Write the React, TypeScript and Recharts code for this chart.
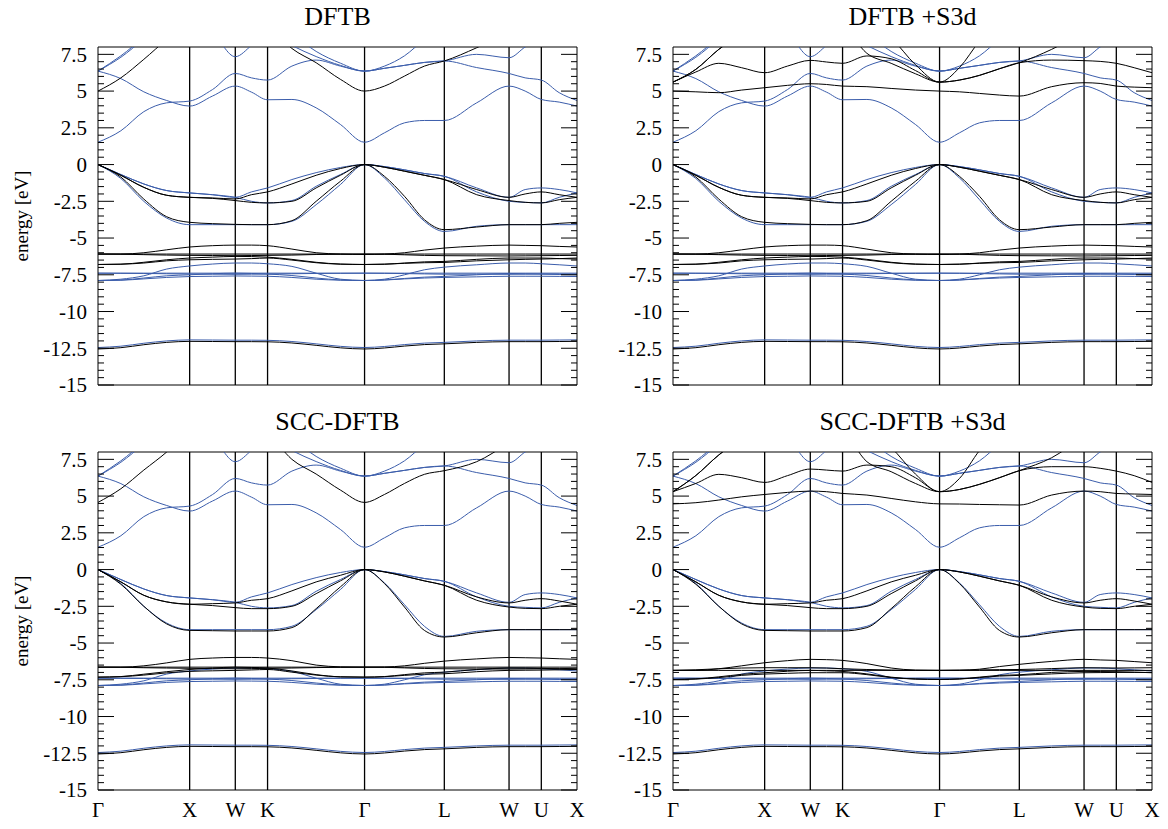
import { LineChart, Line, XAxis, YAxis, ReferenceLine } from "recharts";

// sample points along the path Γ-X-W-K-Γ-L-W-U-X
const K_GRID = [0, 0.248, 0.497, 0.745, 0.994, 1.241, 1.489, 1.664, 1.839, 2.103, 2.366, 2.629, 2.891, 3.107, 3.324, 3.54, 3.756, 4.107, 4.458, 4.633, 4.808, 5.002, 5.195];
const HS_POS = [0, 0.994, 1.489, 1.839, 2.891, 3.756, 4.458, 4.808, 5.195];
const HS_LABELS = ["Γ", "X", "W", "K", "Γ", "L", "W", "U", "X"];
const Y_MAJOR = [-15, -12.5, -10, -7.5, -5, -2.5, 0, 2.5, 5, 7.5];
const Y_MINOR = Array.from({ length: 46 }, (_, i) => -15 + i * 0.5);

// reference bands (blue), identical in every panel
const REF_S = [-12.45, -12.36, -12.16, -12.0, -11.93, -11.94, -11.95, -11.95, -11.96, -12.04, -12.2, -12.37, -12.45, -12.38, -12.25, -12.15, -12.1, -12.0, -11.95, -11.95, -11.95, -11.94, -11.93];
const REF_V1 = [0, -0.68, -1.32, -1.77, -1.93, -2.05, -2.23, -1.86, -1.59, -1.02, -0.55, -0.2, 0, -0.14, -0.36, -0.61, -0.8, -1.59, -2.23, -1.7, -1.59, -1.7, -1.93];
const REF_V2 = [0, -0.68, -1.32, -1.77, -1.93, -2.05, -2.23, -2.5, -2.61, -2.45, -1.48, -0.68, 0, -0.14, -0.36, -0.61, -0.8, -1.86, -2.5, -2.57, -2.61, -2.23, -1.93];
const REF_V3 = [0, -0.95, -2.5, -3.64, -4.09, -4.09, -4.09, -4.09, -4.09, -3.86, -2.73, -1.36, 0, -0.91, -2.39, -3.86, -4.55, -4.2, -4.09, -4.09, -4.09, -4.09, -4.09];
const REF_D1 = [-7.89, -7.8, -7.57, -7.11, -6.9, -6.77, -6.7, -6.7, -6.75, -6.93, -7.39, -7.8, -7.89, -7.8, -7.5, -7.16, -6.98, -6.82, -6.7, -6.7, -6.75, -6.82, -6.9];
const REF_D2 = [-7.39, -7.39, -7.39, -7.39, -7.39, -7.39, -7.39, -7.39, -7.39, -7.39, -7.39, -7.39, -7.39, -7.39, -7.39, -7.39, -7.39, -7.39, -7.39, -7.39, -7.39, -7.39, -7.39];
const REF_D3 = [-7.89, -7.86, -7.72, -7.57, -7.5, -7.43, -7.39, -7.41, -7.45, -7.55, -7.72, -7.85, -7.89, -7.85, -7.75, -7.66, -7.61, -7.5, -7.41, -7.43, -7.45, -7.48, -7.5];
const REF_D4 = [-7.89, -7.87, -7.78, -7.68, -7.62, -7.6, -7.58, -7.59, -7.6, -7.68, -7.8, -7.87, -7.89, -7.86, -7.78, -7.72, -7.68, -7.64, -7.6, -7.6, -7.6, -7.61, -7.62];
const REF_D5 = [-7.39, -7.4, -7.41, -7.43, -7.45, -7.46, -7.47, -7.46, -7.45, -7.43, -7.41, -7.4, -7.39, -7.4, -7.42, -7.44, -7.46, -7.46, -7.47, -7.46, -7.45, -7.45, -7.45];
const REF_C1 = [1.52, 2.3, 3.6, 4.2, 4.32, 5.1, 6.2, 5.9, 5.75, 6.7, 7.11, 6.7, 6.36, 6.55, 6.75, 6.95, 7.05, 6.6, 6.2, 5.9, 5.75, 4.89, 4.36];
const REF_C2 = [6.36, 5.85, 4.95, 4.36, 3.98, 4.66, 5.34, 4.93, 4.41, 4.43, 3.86, 2.73, 1.52, 2.16, 2.84, 3.0, 3.0, 4.2, 5.34, 5.0, 4.43, 4.25, 3.98];
const REF_C3 = [6.36, 7.4, 8.6, 9.4, 9.8, 9.0, 7.34, 8.1, 9.0, 8.1, 7.35, 6.75, 6.36, 6.55, 6.75, 6.95, 7.05, 7.5, 7.27, 8.0, 8.6, 8.9, 9.0];
const REF_C4 = [6.36, 7.3, 8.5, 9.4, 9.9, 10.3, 10.6, 10.3, 10, 8.9, 7.7, 6.9, 6.36, 6.7, 7.4, 8.5, 9.3, 9.8, 10, 10, 10, 9.9, 9.9];

// DFTB valence, d and s bands (used with and without S3d)
const DFTB_S = [-12.55, -12.46, -12.26, -12.1, -12.03, -12.04, -12.05, -12.05, -12.06, -12.14, -12.3, -12.47, -12.55, -12.48, -12.35, -12.25, -12.2, -12.1, -12.05, -12.05, -12.05, -12.04, -12.03];
const DFTB_V1 = [0, -0.73, -1.55, -2.09, -2.23, -2.27, -2.34, -2.05, -1.86, -1.32, -0.73, -0.27, 0, -0.18, -0.45, -0.73, -1.02, -1.7, -2.23, -2.0, -1.86, -2.05, -2.23];
const DFTB_V2 = [0, -0.73, -1.55, -2.09, -2.23, -2.3, -2.45, -2.57, -2.61, -2.5, -1.59, -0.73, 0, -0.18, -0.45, -0.73, -1.02, -2.05, -2.45, -2.57, -2.61, -2.39, -2.23];
const DFTB_V3 = [0, -0.85, -2.35, -3.55, -3.93, -4.02, -4.07, -4.09, -4.09, -3.82, -2.5, -1.14, 0, -0.8, -2.16, -3.75, -4.43, -4.25, -4.09, -4.09, -4.09, -4.0, -3.93];
const DFTB_D1 = [-6.09, -6.09, -6.0, -5.8, -5.61, -5.52, -5.48, -5.48, -5.52, -5.75, -6.0, -6.09, -6.12, -6.09, -6.0, -5.82, -5.68, -5.55, -5.48, -5.5, -5.52, -5.57, -5.61];
const DFTB_D2 = [-6.09, -6.09, -6.09, -6.09, -6.09, -6.09, -6.09, -6.09, -6.09, -6.09, -6.09, -6.09, -6.09, -6.09, -6.09, -6.09, -6.09, -6.09, -6.09, -6.09, -6.09, -6.09, -6.09];
const DFTB_D3 = [-6.8, -6.78, -6.65, -6.48, -6.36, -6.3, -6.25, -6.26, -6.3, -6.45, -6.65, -6.77, -6.8, -6.78, -6.7, -6.62, -6.59, -6.45, -6.36, -6.36, -6.36, -6.4, -6.43];
const DFTB_D4 = [-6.8, -6.78, -6.7, -6.55, -6.48, -6.45, -6.43, -6.4, -6.36, -6.5, -6.68, -6.78, -6.8, -6.78, -6.72, -6.68, -6.66, -6.55, -6.48, -6.45, -6.43, -6.4, -6.36];
const DFTB_D5 = [-6.09, -6.1, -6.13, -6.16, -6.18, -6.19, -6.2, -6.19, -6.18, -6.16, -6.12, -6.1, -6.09, -6.1, -6.14, -6.18, -6.2, -6.21, -6.22, -6.21, -6.2, -6.19, -6.18];
const DFTB_C1 = [5.0, 5.9, 7.16, 8.5, 9.6, 10, 10.5, 10.2, 9.5, 7.9, 6.93, 5.8, 5.0, 5.34, 6.02, 6.7, 7.05, 7.95, 9.0, 9.5, 9.8, 10, 10];

// DFTB +S3d conduction bands
const S3D_C1 = [5.0, 4.95, 4.89, 5.07, 5.23, 5.39, 5.5, 5.45, 5.34, 5.3, 5.18, 5.07, 5.0, 4.95, 4.84, 4.73, 4.66, 5.3, 5.57, 5.52, 5.34, 5.27, 5.23];
const S3D_C2 = [5.61, 6.48, 7.84, 8.9, 9.8, 10, 10, 10, 9.5, 7.57, 6.89, 6.18, 5.61, 5.75, 6.07, 6.52, 6.93, 7.84, 9.0, 9.5, 9.8, 10, 10];
const S3D_C3 = [5.61, 6.3, 6.89, 6.59, 6.25, 6.7, 7.09, 6.98, 6.89, 7.39, 7.2, 6.4, 5.61, 5.75, 6.07, 6.52, 6.93, 7.11, 7.07, 7.02, 6.89, 6.59, 6.25];
const S3D_C4 = [5.61, 6.48, 7.84, 8.9, 9.8, 10.2, 10.5, 10.2, 10, 9.6, 8.6, 6.8, 5.61, 6.6, 8.4, 9.8, 10.5, 10.5, 10.5, 10.5, 10.5, 10.5, 10.5];

// SCC-DFTB valence, d and s bands
const SCC_S = [-12.55, -12.46, -12.26, -12.1, -12.03, -12.04, -12.05, -12.05, -12.06, -12.14, -12.3, -12.47, -12.55, -12.48, -12.35, -12.25, -12.2, -12.1, -12.05, -12.05, -12.05, -12.04, -12.03];
const SCC_V1 = [0, -0.84, -1.75, -2.2, -2.36, -2.32, -2.27, -2.09, -1.98, -1.45, -0.84, -0.39, 0, -0.16, -0.45, -0.77, -1.07, -1.86, -2.27, -2.09, -1.98, -2.14, -2.36];
const SCC_V2 = [0, -0.84, -1.75, -2.2, -2.36, -2.45, -2.59, -2.66, -2.66, -2.5, -1.64, -0.77, 0, -0.16, -0.45, -0.77, -1.07, -2.09, -2.55, -2.64, -2.66, -2.5, -2.36];
const SCC_V3 = [0, -1.0, -2.5, -3.7, -4.14, -4.16, -4.18, -4.18, -4.18, -3.95, -2.66, -1.18, 0, -0.95, -2.55, -4.14, -4.59, -4.3, -4.09, -4.09, -4.09, -4.09, -4.09];
const SCC_D1 = [-6.64, -6.64, -6.55, -6.35, -6.11, -6.02, -5.98, -5.98, -6.02, -6.2, -6.5, -6.62, -6.64, -6.63, -6.55, -6.38, -6.23, -6.08, -5.98, -6.0, -6.02, -6.07, -6.11];
const SCC_D2 = [-6.64, -6.64, -6.64, -6.64, -6.64, -6.64, -6.64, -6.64, -6.64, -6.64, -6.64, -6.64, -6.64, -6.64, -6.64, -6.64, -6.64, -6.64, -6.64, -6.64, -6.64, -6.64, -6.64];
const SCC_D3 = [-7.32, -7.28, -7.12, -6.95, -6.8, -6.7, -6.64, -6.66, -6.7, -6.9, -7.15, -7.3, -7.32, -7.28, -7.15, -7.03, -6.98, -6.8, -6.7, -6.71, -6.72, -6.76, -6.8];
const SCC_D4 = [-7.32, -7.29, -7.18, -7.03, -6.93, -6.89, -6.86, -6.83, -6.8, -6.98, -7.18, -7.3, -7.32, -7.29, -7.2, -7.12, -7.09, -6.95, -6.86, -6.85, -6.84, -6.82, -6.8];
const SCC_D5 = [-6.64, -6.65, -6.68, -6.7, -6.72, -6.74, -6.75, -6.74, -6.72, -6.7, -6.67, -6.65, -6.64, -6.65, -6.69, -6.73, -6.75, -6.76, -6.77, -6.76, -6.75, -6.74, -6.72];
const SCC_C1 = [4.57, 5.5, 6.77, 8.0, 9.5, 10, 10.3, 10, 9.3, 7.5, 6.5, 5.41, 4.57, 5.11, 5.86, 6.48, 6.73, 7.34, 8.6, 9.2, 9.6, 9.8, 10];

// SCC-DFTB +S3d d and conduction bands
const SS_D1 = [-6.86, -6.86, -6.75, -6.55, -6.34, -6.2, -6.11, -6.13, -6.18, -6.4, -6.7, -6.84, -6.86, -6.85, -6.78, -6.6, -6.45, -6.25, -6.11, -6.15, -6.18, -6.26, -6.34];
const SS_D2 = [-6.86, -6.86, -6.86, -6.86, -6.86, -6.86, -6.86, -6.86, -6.86, -6.86, -6.86, -6.86, -6.86, -6.86, -6.86, -6.86, -6.86, -6.86, -6.86, -6.86, -6.86, -6.86, -6.86];
const SS_D3 = [-7.48, -7.44, -7.3, -7.13, -7.02, -6.92, -6.86, -6.89, -6.93, -7.1, -7.32, -7.45, -7.48, -7.44, -7.32, -7.2, -7.16, -7.0, -6.93, -6.94, -6.95, -6.98, -7.02];
const SS_D4 = [-7.48, -7.45, -7.35, -7.2, -7.11, -7.06, -7.02, -7.02, -7.02, -7.15, -7.35, -7.45, -7.48, -7.45, -7.35, -7.25, -7.2, -7.1, -7.02, -7.01, -7.0, -7.0, -7.0];
const SS_D5 = [-6.86, -6.82, -6.75, -6.7, -6.68, -6.68, -6.68, -6.7, -6.75, -6.8, -6.84, -6.86, -6.86, -6.85, -6.83, -6.81, -6.8, -6.74, -6.68, -6.69, -6.7, -6.69, -6.68];
const SS_C1 = [4.47, 4.55, 4.73, 4.95, 5.11, 5.25, 5.34, 5.3, 5.18, 5.07, 4.84, 4.61, 4.47, 4.46, 4.43, 4.41, 4.39, 5.07, 5.34, 5.3, 5.18, 5.14, 5.11];
const SS_C2 = [5.3, 6.4, 7.8, 8.9, 9.6, 10, 10, 10, 9.5, 7.34, 6.66, 5.86, 5.3, 5.45, 5.8, 6.25, 6.73, 7.61, 9.0, 9.5, 9.8, 10, 10];
const SS_C3 = [5.3, 5.86, 6.48, 6.25, 5.93, 6.39, 6.84, 6.77, 6.7, 7.11, 7.0, 6.25, 5.3, 5.45, 5.8, 6.25, 6.73, 7.0, 7.0, 6.89, 6.7, 6.39, 5.93];
const SS_C4 = [5.3, 6.4, 7.8, 8.9, 9.6, 10, 10.3, 10.2, 10, 9.5, 8.3, 6.5, 5.3, 6.2, 8.1, 9.6, 10.3, 10.3, 10.3, 10.3, 10.3, 10.3, 10.3];

const REF_BANDS = [REF_S, REF_V1, REF_V2, REF_V3, REF_D1, REF_D2, REF_D3, REF_D4, REF_D5, REF_C1, REF_C2, REF_C3, REF_C4];

const BLUE = "#3b5dab";
const FONT = "'Liberation Serif', 'Times New Roman', serif";
const PLOT_W = 479;
const PLOT_H = 338;
const AXIS_W = 90;
const TOP_PAD = 10;
const RIGHT_PAD = 14;

const PANELS = [
  { title: "DFTB", left: 98, top: 47, xLabels: false, yLabel: true,
    bands: [DFTB_S, DFTB_V1, DFTB_V2, DFTB_V3, DFTB_D1, DFTB_D2, DFTB_D3, DFTB_D4, DFTB_D5, DFTB_C1] },
  { title: "DFTB +S3d", left: 673, top: 47, xLabels: false, yLabel: false,
    bands: [DFTB_S, DFTB_V1, DFTB_V2, DFTB_V3, DFTB_D1, DFTB_D2, DFTB_D3, DFTB_D4, DFTB_D5, S3D_C1, S3D_C2, S3D_C3, S3D_C4] },
  { title: "SCC-DFTB", left: 98, top: 452, xLabels: true, yLabel: true,
    bands: [SCC_S, SCC_V1, SCC_V2, SCC_V3, SCC_D1, SCC_D2, SCC_D3, SCC_D4, SCC_D5, SCC_C1] },
  { title: "SCC-DFTB +S3d", left: 673, top: 452, xLabels: true, yLabel: false,
    bands: [SCC_S, SCC_V1, SCC_V2, SCC_V3, SS_D1, SS_D2, SS_D3, SS_D4, SS_D5, SS_C1, SS_C2, SS_C3, SS_C4] },
];

function LeftTick({ x, y, payload }: any) {
  const major = Y_MAJOR.includes(payload.value);
  return (
    <g>
      <line x1={x} x2={x + (major ? 16 : 6)} y1={y} y2={y} stroke="#000" strokeWidth={1} />
      {major && (
        <text x={x - 11} y={y} dy="0.35em" textAnchor="end" fontSize={21} fill="#000" fontFamily={FONT}>
          {String(payload.value)}
        </text>
      )}
    </g>
  );
}

function RightTick({ x, y, payload }: any) {
  const major = Y_MAJOR.includes(payload.value);
  return <line x1={x} x2={x - (major ? 16 : 6)} y1={y} y2={y} stroke="#000" strokeWidth={1} />;
}

function BandPanel({ panel }: { panel: (typeof PANELS)[number] }) {
  const rows = K_GRID.map((k, i) => {
    const row: Record<string, number> = { k };
    REF_BANDS.forEach((b, j) => (row["r" + j] = b[i]));
    panel.bands.forEach((b, j) => (row["b" + j] = b[i]));
    return row;
  });

  const xTick = ({ x, y, payload }: any) =>
    panel.xLabels ? (
      <text x={x} y={y + 27} textAnchor="middle" fontSize={21} fill="#000" fontFamily={FONT}>
        {HS_LABELS[HS_POS.indexOf(payload.value)]}
      </text>
    ) : (
      <g />
    );

  return (
    <div style={{ position: "absolute", left: panel.left - AXIS_W, top: panel.top - TOP_PAD }}>
      <LineChart
        width={AXIS_W + PLOT_W + 1 + RIGHT_PAD}
        height={TOP_PAD + PLOT_H + 40}
        data={rows}
        margin={{ top: TOP_PAD, right: RIGHT_PAD, left: 0, bottom: 0 }}
      >
        <XAxis
          dataKey="k"
          type="number"
          domain={[0, 5.195]}
          ticks={HS_POS}
          interval={0}
          tick={xTick}
          tickLine={false}
          tickSize={0}
          tickMargin={0}
          height={40}
          axisLine={{ stroke: "#000" }}
          allowDataOverflow
        />
        <YAxis
          yAxisId="l"
          type="number"
          domain={[-15, 8]}
          ticks={Y_MINOR}
          interval={0}
          tick={<LeftTick />}
          tickLine={false}
          tickSize={0}
          tickMargin={0}
          width={AXIS_W}
          axisLine={{ stroke: "#000" }}
          allowDataOverflow
        />
        <YAxis
          yAxisId="r"
          orientation="right"
          type="number"
          domain={[-15, 8]}
          ticks={Y_MINOR}
          interval={0}
          tick={<RightTick />}
          tickLine={false}
          tickSize={0}
          tickMargin={0}
          width={1}
          axisLine={{ stroke: "#000" }}
          allowDataOverflow
        />
        <ReferenceLine yAxisId="l" y={8} stroke="#000" strokeWidth={1} />
        {HS_POS.slice(1, -1).map((p, i) => (
          <ReferenceLine key={"hs" + i} yAxisId="l" x={p} stroke="#000" strokeWidth={1.3} />
        ))}
        {REF_BANDS.map((_, j) => (
          <Line
            key={"r" + j}
            yAxisId="l"
            dataKey={"r" + j}
            type="monotone"
            stroke={BLUE}
            strokeWidth={1}
            dot={false}
            activeDot={false}
            isAnimationActive={false}
          />
        ))}
        {panel.bands.map((_, j) => (
          <Line
            key={"b" + j}
            yAxisId="l"
            dataKey={"b" + j}
            type="monotone"
            stroke="#000"
            strokeWidth={1}
            dot={false}
            activeDot={false}
            isAnimationActive={false}
          />
        ))}
      </LineChart>
    </div>
  );
}

export default function App() {
  return (
    <div style={{ position: "absolute", left: 0, top: 0, width: 1168, height: 829, background: "#fff", fontFamily: FONT }}>
      {PANELS.map((p) => (
        <div key={p.title}>
          <div
            style={{
              position: "absolute",
              left: p.left,
              width: PLOT_W,
              top: p.top - 46,
              textAlign: "center",
              fontSize: 26,
              lineHeight: "32px",
            }}
          >
            {p.title}
          </div>
          {p.yLabel && (
            <div
              style={{
                position: "absolute",
                left: 22 - 100,
                width: 200,
                top: p.top + PLOT_H / 2 - 11,
                lineHeight: "22px",
                textAlign: "center",
                fontSize: 19,
                transform: "rotate(-90deg)",
              }}
            >
              energy [eV]
            </div>
          )}
          <BandPanel panel={p} />
        </div>
      ))}
    </div>
  );
}
